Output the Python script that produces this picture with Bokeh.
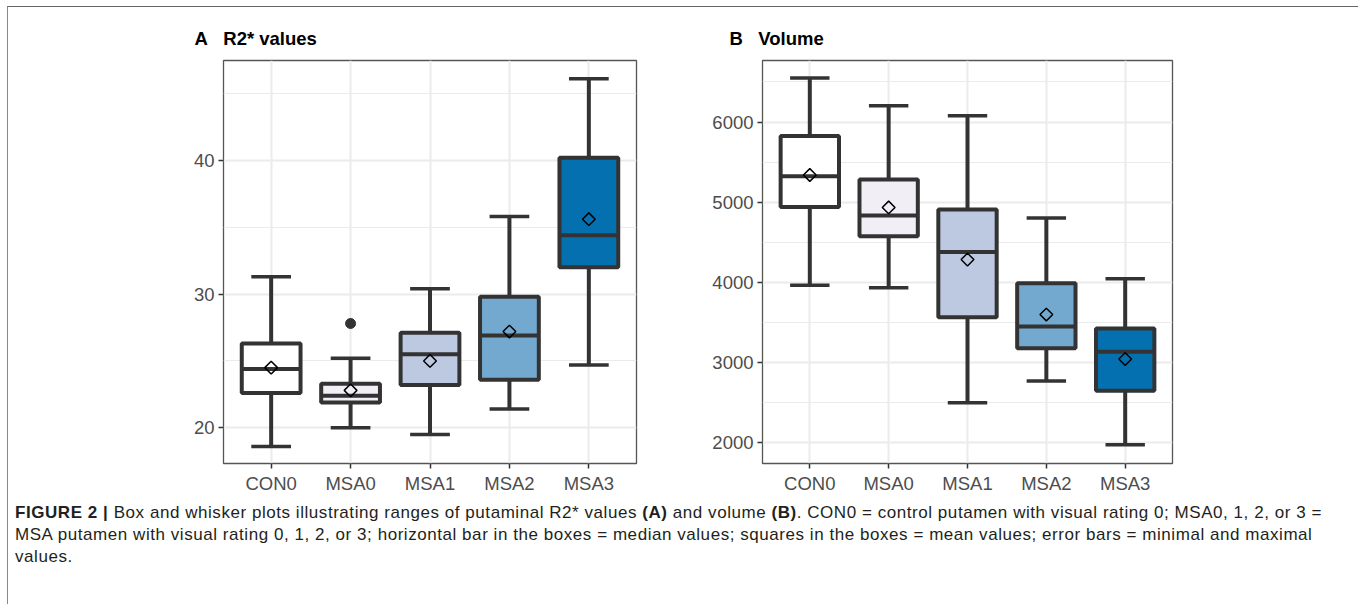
from bokeh.plotting import figure
from bokeh.models import (ColumnDataSource, FactorRange, Range1d, FixedTicker, Div)
from bokeh.layouts import column, row
from bokeh.transform import dodge
from bokeh.embed import file_html
from bokeh.resources import INLINE
import math

groups = ["CON0", "MSA0", "MSA1", "MSA2", "MSA3"]
fills = ["#ffffff", "#f1eef6", "#bdc9e1", "#74a9cf", "#0570b0"]

# Panel A: R2* values
r2_min = [18.6, 20.0, 19.5, 21.4, 24.7]
r2_q1 = [22.6, 21.9, 23.2, 23.6, 32.0]
r2_med = [24.4, 22.4, 25.5, 26.9, 34.4]
r2_q3 = [26.3, 23.3, 27.1, 29.8, 40.2]
r2_max = [31.3, 25.2, 30.4, 35.8, 46.1]
r2_mean = [24.5, 22.8, 25.0, 27.2, 35.6]
r2_out_group = ["MSA0"]
r2_out_val = [27.8]

# Panel B: Volume
vol_min = [3965, 3935, 2500, 2770, 1975]
vol_q1 = [4940, 4575, 3565, 3180, 2650]
vol_med = [5325, 4835, 4380, 3450, 3135]
vol_q3 = [5825, 5285, 4910, 3990, 3425]
vol_max = [6550, 6205, 6080, 4805, 4045]
vol_mean = [5340, 4935, 4285, 3600, 3045]

a_ticks = [20, 30, 40]
a_minor = [25, 35, 45]
b_ticks = [2000, 3000, 4000, 5000, 6000]
b_minor = [2500, 3500, 4500, 5500, 6500]

LINE = "#333333"
TICKFONT = "18.5px"


def make_panel(title, ymin, q1, med, q3, ymax, mean, yr, ticks, minor,
               out_g, out_v, left, right, fw, toff):
    p = figure(x_range=FactorRange(factors=groups, range_padding=0.04),
               y_range=Range1d(*yr), frame_width=fw, frame_height=403,
               min_border_left=left, min_border_right=right,
               min_border_top=53, min_border_bottom=40,
               output_backend="svg", toolbar_location=None)
    p.title.text = title
    p.title.text_font = "Liberation Sans"
    p.title.text_font_size = "18.5px"
    p.title.text_font_style = "bold"
    p.title.text_color = "#000000"
    p.title.align = "left"
    p.title.offset = toff
    p.title.standoff = 23.5
    src = ColumnDataSource(dict(g=groups, lo=ymin, q1=q1, med=med, q3=q3,
                                hi=ymax, mean=mean, fill=fills))
    # whiskers
    p.segment(x0="g", y0="q3", x1="g", y1="hi", source=src, line_color=LINE, line_width=4)
    p.segment(x0="g", y0="lo", x1="g", y1="q1", source=src, line_color=LINE, line_width=4)
    p.segment(x0=dodge("g", -0.25, range=p.x_range), y0="hi",
              x1=dodge("g", 0.25, range=p.x_range), y1="hi",
              source=src, line_color=LINE, line_width=3.5)
    p.segment(x0=dodge("g", -0.25, range=p.x_range), y0="lo",
              x1=dodge("g", 0.25, range=p.x_range), y1="lo",
              source=src, line_color=LINE, line_width=3.5)
    # boxes
    p.vbar(x="g", bottom="q1", top="q3", width=0.74, source=src,
           fill_color="fill", line_color=LINE, line_width=4)
    p.segment(x0=dodge("g", -0.37, range=p.x_range), y0="med",
              x1=dodge("g", 0.37, range=p.x_range), y1="med",
              source=src, line_color=LINE, line_width=4)
    # means
    p.scatter(x="g", y="mean", source=src, marker="square", size=9,
              angle=math.pi / 4, fill_color=None, line_color="#000000", line_width=1.5)
    if out_g:
        p.scatter(x=out_g, y=out_v, marker="circle", size=10,
                  fill_color=LINE, line_color=LINE)
    # axes / grid
    p.yaxis.ticker = FixedTicker(ticks=ticks, minor_ticks=minor)
    for ax in (p.xaxis[0], p.yaxis[0]):
        ax.axis_line_color = None
        ax.major_tick_line_color = LINE
        ax.major_tick_line_width = 1.5
        ax.major_tick_in = 0
        ax.major_tick_out = 5
        ax.minor_tick_line_color = None
        ax.major_label_text_font = "Liberation Sans"
        ax.major_label_text_font_size = TICKFONT
        ax.major_label_text_color = "#4d4d4d"
        ax.major_label_standoff = 4
    p.xaxis.major_label_standoff = 4
    p.xgrid.grid_line_color = "#ebebeb"
    p.xgrid.grid_line_width = 2
    p.ygrid.grid_line_color = "#ebebeb"
    p.ygrid.grid_line_width = 2
    p.ygrid.minor_grid_line_color = "#ebebeb"
    p.ygrid.minor_grid_line_width = 1
    p.outline_line_color = "#555555"
    p.outline_line_width = 1.3
    p.background_fill_color = "#ffffff"
    p.border_fill_color = "#ffffff"
    return p


pa = make_panel("A\u00a0\u00a0\u00a0R2* values", r2_min, r2_q1, r2_med, r2_q3, r2_max,
                r2_mean, (17.33, 47.47), a_ticks, a_minor, r2_out_group, r2_out_val,
                left=215, right=52, fw=413, toff=-29)
pb = make_panel("B\u00a0\u00a0\u00a0Volume", vol_min, vol_q1, vol_med, vol_q3, vol_max,
                vol_mean, (1742, 6768), b_ticks, b_minor, [], [],
                left=74, right=184, fw=410, toff=-33)

caption = ("<b>FIGURE 2 |</b> Box and whisker plots illustrating ranges of putaminal R2* values "
           "<b>(A)</b> and volume <b>(B)</b>. CON0 = control putamen with visual rating 0; "
           "MSA0, 1, 2, or 3 =<br>MSA putamen with visual rating 0, 1, 2, or 3; horizontal bar "
           "in the boxes = median values; squares in the boxes = mean values; error bars = "
           "minimal and maximal<br>values.")
cap = Div(text=caption, width=1348, height=100,
          styles={"font-family": "'Liberation Sans', sans-serif",
                  "font-size": "17px", "line-height": "22px", "color": "#231f20",
                  "letter-spacing": "0.55px",
                  "padding-left": "2px", "white-space": "nowrap", "margin-top": "-1px"})

layout = column(row(pa, pb), cap,
                styles={"margin": "6px 0 0 7px",
                        "border-top": "1px solid #666666", "border-left": "1px solid #888888",
                        "border-right": "1px solid #888888", "background-color": "#ffffff"})

open("out.html", "w").write(file_html(layout, INLINE))
